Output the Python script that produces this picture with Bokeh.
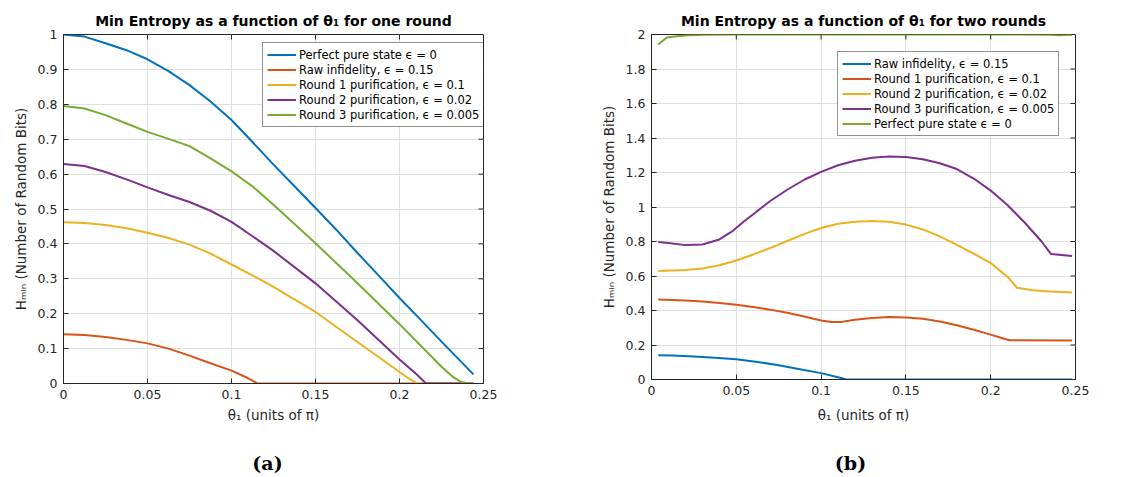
from bokeh.plotting import figure
from bokeh.models import Range1d, Legend, LegendItem, FixedTicker, Title, Label
from bokeh.layouts import row, column
from bokeh.embed import file_html
from bokeh.resources import INLINE

# ---------------- data: panel (a), one round ----------------
theta_a_pure = [0, 0.0125, 0.025, 0.0375, 0.05, 0.0625, 0.075, 0.0875, 0.1, 0.1125, 0.125,
                0.1375, 0.15, 0.1625, 0.175, 0.1875, 0.2, 0.2125, 0.225, 0.244]
H_a_pure = [1.0, 0.994, 0.975, 0.955, 0.929, 0.895, 0.855, 0.808, 0.755, 0.692, 0.627,
            0.565, 0.503, 0.44, 0.374, 0.31, 0.245, 0.183, 0.12, 0.026]

theta_a_raw = [0, 0.0125, 0.025, 0.0375, 0.05, 0.0625, 0.075, 0.0875, 0.1, 0.11, 0.1155, 0.244]
H_a_raw = [0.141, 0.139, 0.133, 0.125, 0.115, 0.100, 0.080, 0.058, 0.037, 0.015, 0.0, 0.0]

theta_a_r1 = [0, 0.0125, 0.025, 0.0375, 0.05, 0.0625, 0.075, 0.0875, 0.1, 0.1125, 0.125,
              0.15, 0.175, 0.2, 0.206, 0.2105, 0.244]
H_a_r1 = [0.462, 0.460, 0.454, 0.445, 0.432, 0.417, 0.398, 0.372, 0.341, 0.31, 0.277,
          0.205, 0.119, 0.033, 0.013, 0.0, 0.0]

theta_a_r2 = [0, 0.0125, 0.025, 0.0375, 0.05, 0.0625, 0.075, 0.0875, 0.1, 0.1125, 0.125,
              0.15, 0.175, 0.2, 0.21, 0.2158, 0.244]
H_a_r2 = [0.629, 0.623, 0.606, 0.585, 0.562, 0.540, 0.520, 0.495, 0.463, 0.422, 0.38,
          0.287, 0.181, 0.069, 0.027, 0.0, 0.0]

theta_a_r3 = [0, 0.0125, 0.025, 0.0375, 0.05, 0.0625, 0.075, 0.0875, 0.1, 0.1125, 0.125,
              0.15, 0.175, 0.2, 0.225, 0.232, 0.236, 0.24, 0.244]
H_a_r3 = [0.795, 0.788, 0.769, 0.745, 0.721, 0.701, 0.680, 0.645, 0.608, 0.565, 0.512,
          0.402, 0.287, 0.170, 0.048, 0.018, 0.006, 0.001, 0.0]

labels_a = ["Perfect pure state \u03f5 = 0", "Raw infidelity, \u03f5 = 0.15",
            "Round 1 purification, \u03f5 = 0.1", "Round 2 purification, \u03f5 = 0.02",
            "Round 3 purification, \u03f5 = 0.005"]

# ---------------- data: panel (b), two rounds ----------------
theta_b_raw = [0.004, 0.0125, 0.025, 0.0375, 0.05, 0.0625, 0.075, 0.0875, 0.1, 0.11, 0.115, 0.248]
H_b_raw = [0.141, 0.139, 0.134, 0.126, 0.117, 0.102, 0.082, 0.06, 0.037, 0.013, 0.0, 0.0]

theta_b_r1 = [0.004, 0.02, 0.03, 0.04, 0.05, 0.06, 0.07, 0.08, 0.09, 0.1, 0.106, 0.112, 0.12,
              0.13, 0.14, 0.15, 0.16, 0.17, 0.18, 0.19, 0.2, 0.206, 0.211, 0.248]
H_b_r1 = [0.464, 0.458, 0.452, 0.444, 0.433, 0.42, 0.405, 0.387, 0.365, 0.342, 0.333, 0.334, 0.347,
          0.357, 0.362, 0.36, 0.352, 0.336, 0.314, 0.288, 0.26, 0.242, 0.228, 0.226]

theta_b_r2 = [0.004, 0.02, 0.03, 0.04, 0.05, 0.06, 0.07, 0.08, 0.09, 0.1, 0.11, 0.12, 0.13,
              0.14, 0.15, 0.16, 0.17, 0.18, 0.19, 0.2, 0.21, 0.2155, 0.225, 0.235, 0.248]
H_b_r2 = [0.629, 0.635, 0.644, 0.662, 0.69, 0.725, 0.762, 0.803, 0.843, 0.878, 0.903, 0.915, 0.919,
          0.914, 0.898, 0.87, 0.83, 0.78, 0.73, 0.675, 0.595, 0.532, 0.518, 0.51, 0.505]

theta_b_r3 = [0.004, 0.01, 0.02, 0.03, 0.04, 0.048, 0.055, 0.06, 0.07, 0.08, 0.09, 0.1, 0.11,
              0.12, 0.13, 0.14, 0.15, 0.16, 0.17, 0.18, 0.19, 0.2, 0.21, 0.22, 0.23, 0.2355, 0.248]
H_b_r3 = [0.797, 0.791, 0.779, 0.783, 0.812, 0.862, 0.92, 0.958, 1.035, 1.10, 1.158, 1.204, 1.242,
          1.268, 1.285, 1.293, 1.29, 1.277, 1.254, 1.22, 1.165, 1.095, 1.01, 0.91, 0.80, 0.728, 0.716]

theta_b_pure = [0.004, 0.009, 0.015, 0.022, 0.03, 0.05, 0.1, 0.15, 0.2, 0.235, 0.24, 0.244, 0.248]
H_b_pure = [1.942, 1.983, 1.990, 1.996, 1.999, 2.0, 2.0, 2.0, 2.0, 1.999, 1.996, 1.997, 1.999]

labels_b = ["Raw infidelity, \u03f5 = 0.15", "Round 1 purification, \u03f5 = 0.1",
            "Round 2 purification, \u03f5 = 0.02", "Round 3 purification, \u03f5 = 0.005",
            "Perfect pure state \u03f5 = 0"]

# ---------------- ticks & texts ----------------
x_ticks = [0, 0.05, 0.1, 0.15, 0.2, 0.25]
x_tick_labels = ["0", "0.05", "0.1", "0.15", "0.2", "0.25"]
y_ticks_a = [0, 0.1, 0.2, 0.3, 0.4, 0.5, 0.6, 0.7, 0.8, 0.9, 1.0]
y_tick_labels_a = ["0", "0.1", "0.2", "0.3", "0.4", "0.5", "0.6", "0.7", "0.8", "0.9", "1"]
y_ticks_b = [0, 0.2, 0.4, 0.6, 0.8, 1.0, 1.2, 1.4, 1.6, 1.8, 2.0]
y_tick_labels_b = ["0", "0.2", "0.4", "0.6", "0.8", "1", "1.2", "1.4", "1.6", "1.8", "2"]

titles = ["Min Entropy as a function of \u03b8\u2081 for one round",
          "Min Entropy as a function of \u03b8\u2081 for two rounds"]
xlabel = "\u03b8\u2081 (units of \u03c0)"
ylabel = "H\u2098\u1d62\u2099 (Number of Random Bits)"
subcaps = ["(a)", "(b)"]

COLORS = ["#0072BD", "#D95319", "#EDB120", "#7E2F8E", "#77AC30"]
FONT = "DejaVu Sans"
AX = "#262626"
GRID = "#dfdfdf"
TICK_PX = 5


def style_axis(ax, ticks, labels, label_text, label_standoff):
    ax.ticker = FixedTicker(ticks=ticks)
    ax.major_label_overrides = dict(zip(ticks, labels))
    ax.axis_line_color = AX
    ax.axis_line_width = 1
    ax.major_tick_line_color = AX
    ax.major_tick_in = TICK_PX
    ax.major_tick_out = 0
    ax.minor_tick_line_color = None
    ax.major_label_text_font = FONT
    ax.major_label_text_color = AX
    ax.major_label_text_font_size = "12.5px"
    ax.major_label_standoff = 6
    ax.axis_label = label_text
    ax.axis_label_text_font = FONT
    ax.axis_label_text_font_size = "13.5px"
    ax.axis_label_text_font_style = "normal"
    ax.axis_label_text_color = AX
    ax.axis_label_standoff = label_standoff


def panel(width, height, bl, br, bt, bb, fw, fh, ymax, yticks, ylabels, series, names,
          legend_loc, title, xlab_standoff):
    p = figure(width=width, height=height, x_range=Range1d(0, 0.25), y_range=Range1d(0, ymax),
               output_backend="svg", toolbar_location=None,
               min_border_left=bl, min_border_right=br, min_border_top=bt, min_border_bottom=bb)
    p.background_fill_color = "white"
    p.border_fill_color = "white"
    p.outline_line_color = AX
    p.outline_line_alpha = 1.0
    style_axis(p.xaxis[0], x_ticks, x_tick_labels, xlabel, xlab_standoff)
    style_axis(p.yaxis[0], yticks, ylabels, ylabel, 6)
    for g in (p.xgrid[0], p.ygrid[0]):
        g.grid_line_color = GRID
        g.grid_line_width = 1

    p.title = Title(text=title, align="center", vertical_align="middle", text_font=FONT,
                    text_font_size="14px", text_font_style="bold", text_color="#000000",
                    standoff=10)

    items = []
    for (xs, ys), name, col in zip(series, names, COLORS):
        r = p.line(xs, ys, line_color=col, line_width=2)
        items.append(LegendItem(label=name, renderers=[r]))

    # inward ticks on the top and right edges of the box (as in the boxed original)
    dy = TICK_PX / fh * ymax
    dx = TICK_PX / fw * 0.25
    p.segment(x0=x_ticks, y0=[ymax] * len(x_ticks), x1=x_ticks, y1=[ymax - dy] * len(x_ticks),
              line_color=AX, line_width=1)
    p.segment(x0=[0.25] * len(yticks), y0=yticks, x1=[0.25 - dx] * len(yticks), y1=yticks,
              line_color=AX, line_width=1)

    leg = Legend(items=items, location=legend_loc,
                 label_text_font=FONT, label_text_font_size="11.5px", label_text_color="#000000",
                 glyph_width=29, glyph_height=15, label_height=15, label_standoff=3,
                 spacing=0, padding=4, margin=0,
                 border_line_color=AX, border_line_width=1,
                 background_fill_color="white", background_fill_alpha=1.0)
    p.add_layout(leg)
    return p


series_a = [(theta_a_pure, H_a_pure), (theta_a_raw, H_a_raw), (theta_a_r1, H_a_r1),
            (theta_a_r2, H_a_r2), (theta_a_r3, H_a_r3)]
series_b = [(theta_b_raw, H_b_raw), (theta_b_r1, H_b_r1), (theta_b_r2, H_b_r2),
            (theta_b_r3, H_b_r3), (theta_b_pure, H_b_pure)]

# borders of the two figures in a row are aligned, so both use a bottom border of 66 px
# left figure: x 0..580, frame 63..483, y 34..383
pa = panel(580, 449, 63, 97, 34, 66, 420, 349, 1.0, y_ticks_a, y_tick_labels_a, series_a,
           labels_a, (199, 256), titles[0], 5)
# right figure: x 580..1137, frame 651..1075, y 34..379
pb = panel(557, 445, 71, 62, 34, 66, 424, 345, 2.0, y_ticks_b, y_tick_labels_b, series_b,
           labels_b, (186, 243), titles[1], 9)

# caption strip with the sub-figure letters
cap = figure(width=1137, height=28, x_range=Range1d(0, 1137), y_range=Range1d(0, 28),
             output_backend="svg", toolbar_location=None, min_border=0)
cap.axis.visible = False
cap.grid.visible = False
cap.outline_line_color = None
cap.background_fill_color = "white"
cap.border_fill_color = "white"
for cx, txt in zip([267, 850], subcaps):
    cap.add_layout(Label(x=cx, y=15, text=txt, text_font="DejaVu Serif", text_font_size="19px",
                         text_font_style="bold", text_color="#000000",
                         text_align="center", text_baseline="middle"))

layout = column(row(pa, pb), cap)
open("out.html", "w").write(file_html(layout, INLINE))
